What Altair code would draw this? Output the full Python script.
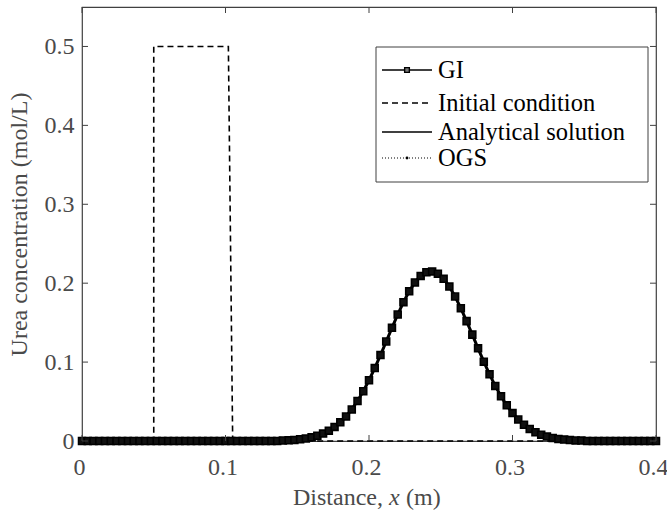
import altair as alt
import pandas as pd

# ---------------- data ----------------
gi_x = [0.000, 0.004, 0.008, 0.012, 0.016, 0.020, 0.024, 0.028, 0.032, 0.036,
        0.040, 0.044, 0.048, 0.052, 0.056, 0.060, 0.064, 0.068, 0.072, 0.076,
        0.080, 0.084, 0.088, 0.092, 0.096, 0.100, 0.104, 0.108, 0.112, 0.116,
        0.120, 0.124, 0.128, 0.132, 0.136, 0.140, 0.144, 0.148, 0.152, 0.156,
        0.160, 0.164, 0.168, 0.172, 0.176, 0.180, 0.184, 0.188, 0.192, 0.196,
        0.200, 0.204, 0.208, 0.212, 0.216, 0.220, 0.224, 0.228, 0.232, 0.236,
        0.240, 0.244, 0.248, 0.252, 0.256, 0.260, 0.264, 0.268, 0.272, 0.276,
        0.280, 0.284, 0.288, 0.292, 0.296, 0.300, 0.304, 0.308, 0.312, 0.316,
        0.320, 0.324, 0.328, 0.332, 0.336, 0.340, 0.344, 0.348, 0.352, 0.356,
        0.360, 0.364, 0.368, 0.372, 0.376, 0.380, 0.384, 0.388, 0.392, 0.396,
        0.400]
gi_y = [0.0, 0.0, 0.0, 0.0, 0.0, 0.0, 0.0, 0.0, 0.0, 0.0,
        0.0, 0.0, 0.0, 0.0, 0.0, 0.0, 0.0, 0.0, 0.0, 0.0,
        0.0, 0.0, 0.0, 0.0, 0.0, 0.0, 0.0, 0.0, 0.0, 0.0,
        0.0, 0.0, 0.0, 0.0, 0.0, 0.0006, 0.0009, 0.0014, 0.0022, 0.0032,
        0.0047, 0.0067, 0.0094, 0.0131, 0.0178, 0.0237, 0.0311, 0.0400, 0.0507, 0.0630,
        0.0770, 0.0924, 0.1089, 0.1261, 0.1434, 0.1603, 0.1759, 0.1897, 0.2010, 0.2092,
        0.2139, 0.2149, 0.2120, 0.2055, 0.1957, 0.1831, 0.1683, 0.1519, 0.1348, 0.1174,
        0.1005, 0.0845, 0.0698, 0.0566, 0.0452, 0.0354, 0.0272, 0.0206, 0.0153, 0.0111,
        0.0080, 0.0056, 0.0039, 0.0026, 0.0018, 0.0012, 0.0007, 0.0005, 0.0, 0.0,
        0.0, 0.0, 0.0, 0.0, 0.0, 0.0, 0.0, 0.0, 0.0, 0.0,
        0.0]

init_x = [0.000, 0.050, 0.050, 0.102, 0.105, 0.400]
init_y = [0.0, 0.0, 0.5, 0.5, 0.0, 0.0]

ana_x = [0.000, 0.132, 0.140, 0.148, 0.156, 0.164, 0.172, 0.180, 0.188, 0.196,
         0.204, 0.212, 0.220, 0.228, 0.236, 0.244, 0.252, 0.260, 0.268, 0.276,
         0.284, 0.292, 0.300, 0.308, 0.316, 0.324, 0.332, 0.340, 0.348, 0.356,
         0.400]
ana_y = [0.0, 0.0, 0.0006, 0.0014, 0.0032, 0.0067, 0.0130, 0.0235, 0.0397, 0.0625,
         0.0917, 0.1252, 0.1592, 0.1884, 0.2078, 0.2134, 0.2041, 0.1818, 0.1509, 0.1166,
         0.0839, 0.0562, 0.0351, 0.0204, 0.0110, 0.0056, 0.0026, 0.0012, 0.0005, 0.0,
         0.0]

ogs_x = ana_x
ogs_y = [0.0, 0.0, 0.0006, 0.0014, 0.0032, 0.0068, 0.0131, 0.0236, 0.0399, 0.0628,
         0.0921, 0.1257, 0.1598, 0.1890, 0.2084, 0.2140, 0.2047, 0.1823, 0.1513, 0.1169,
         0.0841, 0.0563, 0.0352, 0.0204, 0.0110, 0.0056, 0.0026, 0.0012, 0.0005, 0.0,
         0.0]

x_ticks = [0, 0.1, 0.2, 0.3, 0.4]
y_ticks = [0, 0.1, 0.2, 0.3, 0.4, 0.5]

legend_labels = ["GI", "Initial condition", "Analytical solution", "OGS"]

# ---------------- layout ----------------
W, H = 574, 434
FONT = "Liberation Serif"
TXT = "#4a4a4a"
FS = 24
LFS = 24.5

x_scale = alt.Scale(domain=[0, 0.4], nice=False, zero=False)
y_scale = alt.Scale(domain=[0, 0.55], nice=False, zero=False)

x_axis = alt.Axis(values=x_ticks, format=".1~f", ticks=False, domain=False, grid=False,
                  labelFont=FONT, labelFontSize=FS, labelColor=TXT, labelPadding=14,
                  labelFlush=False, labelOffset=-3, title=None)
y_axis = alt.Axis(values=y_ticks, format=".1~f", ticks=False, domain=False, grid=False,
                  labelFont=FONT, labelFontSize=FS, labelColor=TXT, labelPadding=8,
                  title="Urea concentration (mol/L)", titleFont=FONT, titleFontSize=FS,
                  titleFontWeight="normal", titleColor=TXT, titlePadding=13)


def X(field="x"):
    return alt.X(f"{field}:Q", scale=x_scale, axis=x_axis)


def Y(field="y"):
    return alt.Y(f"{field}:Q", scale=y_scale, axis=y_axis)


gi_df = pd.DataFrame({"x": gi_x, "y": gi_y})
init_df = pd.DataFrame({"x": init_x, "y": init_y})
ana_df = pd.DataFrame({"x": ana_x, "y": ana_y})
ogs_df = pd.DataFrame({"x": ogs_x, "y": ogs_y})

init_line = alt.Chart(init_df).mark_line(color="black", strokeWidth=1.6, strokeDash=[6, 4]).encode(
    x=X(), y=Y(), order="idx:Q").transform_window(idx="row_number()")
gi_line = alt.Chart(gi_df).mark_line(color="black", strokeWidth=3).encode(x=X(), y=Y())
gi_pts = alt.Chart(gi_df).mark_point(shape="square", size=48, filled=True, fill="#111111",
                                     stroke="black", strokeWidth=1.6, opacity=1).encode(x=X(), y=Y())
ana_line = alt.Chart(ana_df).mark_line(color="black", strokeWidth=1.4, interpolate="monotone").encode(x=X(), y=Y())
ogs_line = alt.Chart(ogs_df).mark_line(color="black", strokeWidth=1.2, strokeDash=[1, 2],
                                       interpolate="monotone").encode(x=X(), y=Y())

# inward ticks on all four sides
xt_df = pd.DataFrame({"x": x_ticks})
yt_df = pd.DataFrame({"y": y_ticks})
TK = 6
tick_style = dict(color="#404040", strokeWidth=1)
xt_bot = alt.Chart(xt_df).mark_rule(**tick_style).encode(x=X(), y=alt.value(H), y2=alt.value(H - TK))
xt_top = alt.Chart(xt_df).mark_rule(**tick_style).encode(x=X(), y=alt.value(0), y2=alt.value(TK))
yt_left = alt.Chart(yt_df).mark_rule(**tick_style).encode(y=Y(), x=alt.value(0), x2=alt.value(TK))
yt_right = alt.Chart(yt_df).mark_rule(**tick_style).encode(y=Y(), x=alt.value(W), x2=alt.value(W - TK))

# x-axis title with italic x
one = pd.DataFrame({"a": [0]})
TX0 = 301
tt_style = dict(font=FONT, fontSize=FS, color=TXT, baseline="middle")
xt1 = alt.Chart(one).mark_text(align="right", **tt_style).encode(
    x=alt.value(TX0), y=alt.value(H + 57), text=alt.value("Distance,"))
xt2 = alt.Chart(one).mark_text(align="left", fontStyle="italic", **tt_style).encode(
    x=alt.value(TX0 + 6), y=alt.value(H + 57), text=alt.value("x"))
xt3 = alt.Chart(one).mark_text(align="left", **tt_style).encode(
    x=alt.value(TX0 + 23), y=alt.value(H + 57), text=alt.value("(m)"))

# legend (drawn manually, MATLAB style)
LX0, LX1, LY0, LY1 = 294, 566, 40, 175
entry_y = [63, 96, 125, 151]
SX0, SX1, TXL = 300, 350, 356
leg_box = alt.Chart(one).mark_rect(fill="white", stroke="#404040", strokeWidth=1).encode(
    x=alt.value(LX0), x2=alt.value(LX1), y=alt.value(LY0), y2=alt.value(LY1))
leg_layers = [leg_box]
leg_dash = [None, [6, 4], None, [1, 2]]
for i, lab in enumerate(legend_labels):
    kw = dict(color="black", strokeWidth=1.6 if i != 3 else 1.2)
    if leg_dash[i] is not None:
        kw["strokeDash"] = leg_dash[i]
    leg_layers.append(alt.Chart(one).mark_rule(**kw).encode(
        x=alt.value(SX0), x2=alt.value(SX1), y=alt.value(entry_y[i])))
    leg_layers.append(alt.Chart(one).mark_text(align="left", font=FONT, fontSize=LFS, color="black",
                                               baseline="middle").encode(
        x=alt.value(TXL), y=alt.value(entry_y[i] + 1), text=alt.value(lab)))
leg_layers.append(alt.Chart(one).mark_point(shape="square", size=22, filled=True, fill="#777777",
                                            stroke="black", strokeWidth=1.4, opacity=1).encode(
    x=alt.value((SX0 + SX1) / 2), y=alt.value(entry_y[0])))
leg_layers.append(alt.Chart(one).mark_point(shape="circle", size=8, filled=True, color="black", opacity=1).encode(
    x=alt.value((SX0 + SX1) / 2), y=alt.value(entry_y[3])))

chart = alt.layer(
    init_line, ogs_line, ana_line, gi_line, gi_pts,
    xt_bot, xt_top, yt_left, yt_right,
    xt1, xt2, xt3,
    *leg_layers,
).properties(
    width=W, height=H,
    autosize=alt.AutoSizeParams(type="none"),
    padding={"left": 82, "top": 7, "right": 11, "bottom": 72},
    background="white",
).configure_view(stroke="#404040", strokeWidth=1.2)

chart.save("out.html", embed_options={"renderer": "svg", "actions": False})
